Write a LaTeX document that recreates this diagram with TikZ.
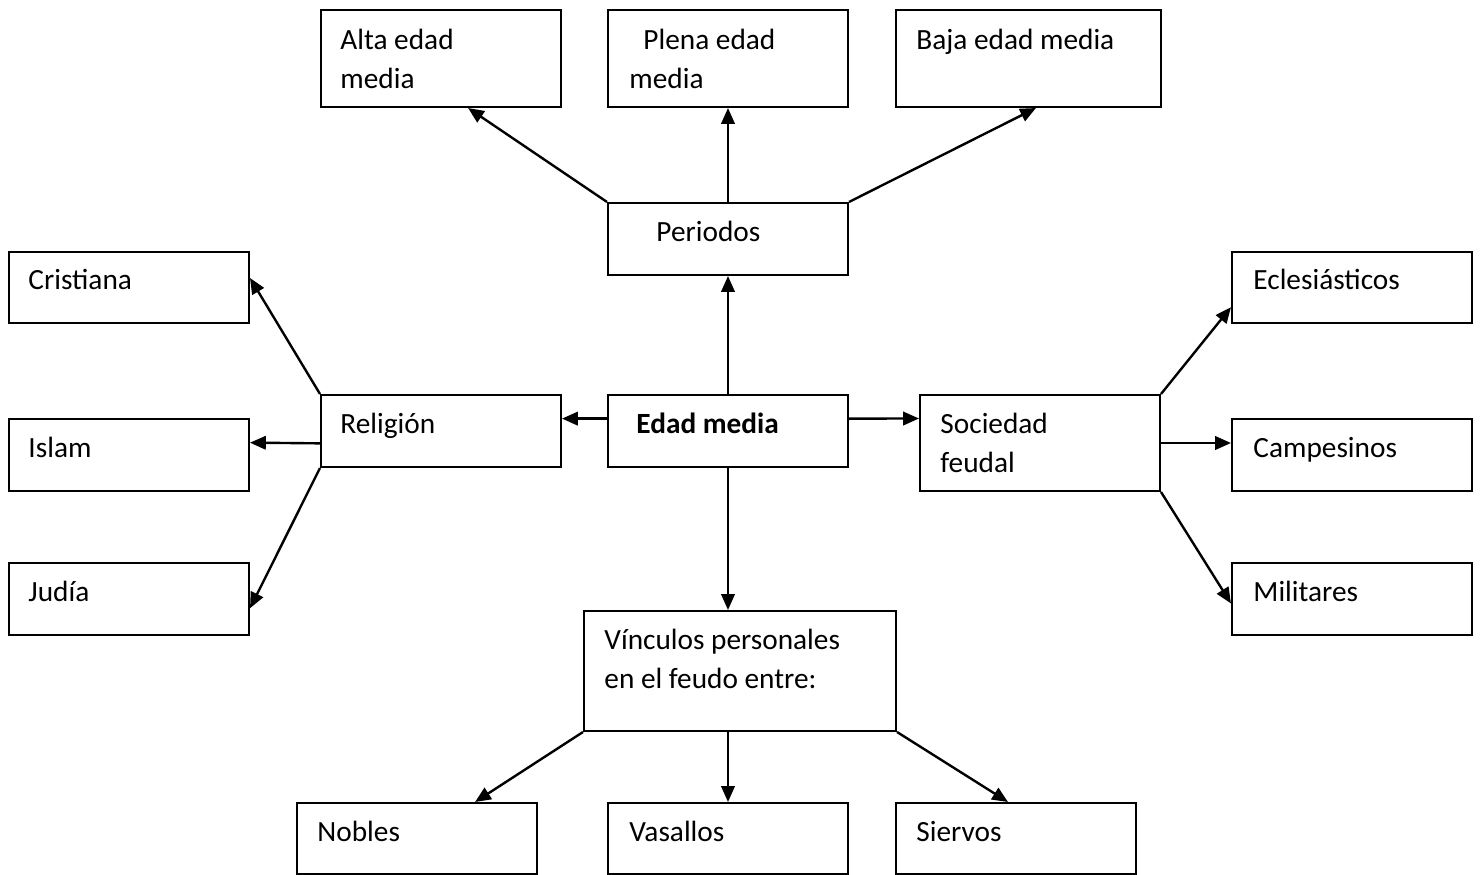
\documentclass[tikz,border=0pt]{standalone}
\usepackage{fontspec}
\setmainfont{Carlito}
\usetikzlibrary{arrows.meta,calc,fit}
\begin{document}
\begin{tikzpicture}[x=0.418pt,y=-0.418pt,
  box/.style={draw=black,line width=0.85pt,inner sep=0pt,rectangle},
  txt/.style={anchor=base west,inner sep=0pt,font=\fontsize{12.25pt}{14pt}\selectfont},
  conn/.style={line width=1pt,-{Triangle[length=6.6pt,width=5.6pt]}}]
\useasboundingbox (0,0) rectangle (1483,875);
% boxes
\node[box,fit={(321,10) (561,107)}] (alta) {};
\node[box,fit={(608,10) (848,107)}] (plena) {};
\node[box,fit={(896,10) (1161,107)}] (baja) {};
\node[box,fit={(608,203) (848,275)}] (periodos) {};
\node[box,fit={(9,252) (249,323)}] (cristiana) {};
\node[box,fit={(321,395) (561,467)}] (religion) {};
\node[box,fit={(608,395) (848,467)}] (edad) {};
\node[box,fit={(920,395) (1160,491)}] (sociedad) {};
\node[box,fit={(1232,252) (1472,323)}] (ecles) {};
\node[box,fit={(9,419) (249,491)}] (islam) {};
\node[box,fit={(1232,419) (1472,491)}] (campes) {};
\node[box,fit={(9,563) (249,635)}] (judia) {};
\node[box,fit={(1232,563) (1472,635)}] (militares) {};
\node[box,fit={(584,611) (896,731)}] (vinculos) {};
\node[box,fit={(297,803) (537,874)}] (nobles) {};
\node[box,fit={(608,803) (848,874)}] (vasallos) {};
\node[box,fit={(896,803) (1136,874)}] (siervos) {};
% texts
\node[txt] (altaA) at ($(alta.north west)+(20,41)$) {Alta edad};
\node[txt] (altaB) at ($(alta.north west)+(20,80)$) {media};
\node[txt] (plenaA) at ($(plena.north west)+(36,41)$) {Plena edad};
\node[txt] (plenaB) at ($(plena.north west)+(22,80)$) {media};
\node[txt] (bajaA) at ($(baja.north west)+(21,41)$) {Baja edad media};
\node[txt] (periodosT) at ($(periodos.north west)+(49,40)$) {Periodos};
\node[txt] (cristianaT) at ($(cristiana.north west)+(20,39)$) {Cristiana};
\node[txt] (religionT) at ($(religion.north west)+(20,40)$) {Religión};
\node[txt,font=\fontsize{12.25pt}{14pt}\selectfont\bfseries] (edadT) at ($(edad.north west)+(29,40)$) {Edad media};
\node[txt] (sociedadA) at ($(sociedad.north west)+(21,40)$) {Sociedad};
\node[txt] (sociedadB) at ($(sociedad.north west)+(21,79)$) {feudal};
\node[txt] (eclesT) at ($(ecles.north west)+(22,39)$) {Eclesiásticos};
\node[txt] (islamT) at ($(islam.north west)+(20,40)$) {Islam};
\node[txt] (campesT) at ($(campes.north west)+(22,40)$) {Campesinos};
\node[txt] (judiaT) at ($(judia.north west)+(20,40)$) {Judía};
\node[txt] (militaresT) at ($(militares.north west)+(22,40)$) {Militares};
\node[txt] (vinculosA) at ($(vinculos.north west)+(21,40)$) {Vínculos personales};
\node[txt] (vinculosB) at ($(vinculos.north west)+(21,79)$) {en el feudo entre:};
\node[txt] (noblesT) at ($(nobles.north west)+(21,40)$) {Nobles};
\node[txt] (vasallosT) at ($(vasallos.north west)+(22,40)$) {Vasallos};
\node[txt] (siervosT) at ($(siervos.north west)+(21,40)$) {Siervos};
% connectors
\draw[conn] (periodos.north west) -- ($(alta.south west)!0.612!(alta.south east)$);
\draw[conn] (periodos.north) -- (plena.south);
\draw[conn] (periodos.north east) -- ($(baja.south west)!0.528!(baja.south east)$);
\draw[conn] (edad.north) -- (periodos.south);
\draw[conn] ($(edad.north west)!0.333!(edad.south west)$) -- ($(religion.north east)!0.333!(religion.south east)$);
\draw[conn] ($(edad.north east)!0.333!(edad.south east)$) -- ($(sociedad.north west)!0.25!(sociedad.south west)$);
\draw[conn] (edad.south) -- (edad.south |- vinculos.north);
\draw[conn] (religion.north west) -- ($(cristiana.north east)!0.37!(cristiana.south east)$);
\draw[conn] ($(religion.north west)!0.667!(religion.south west)$) -- ($(islam.north east)!0.333!(islam.south east)$);
\draw[conn] (religion.south west) -- ($(judia.north east)!0.625!(judia.south east)$);
\draw[conn] (sociedad.north east) -- ($(ecles.north west)!0.77!(ecles.south west)$);
\draw[conn] (sociedad.east) -- (sociedad.east -| campes.west);
\draw[conn] (sociedad.south east) -- ($(militares.north west)!0.56!(militares.south west)$);
\draw[conn] (vinculos.south west) -- ($(nobles.north west)!0.74!(nobles.north east)$);
\draw[conn] (vasallos.north |- vinculos.south) -- (vasallos.north);
\draw[conn] (vinculos.south east) -- ($(siervos.north west)!0.467!(siervos.north east)$);
\end{tikzpicture}
\end{document}
